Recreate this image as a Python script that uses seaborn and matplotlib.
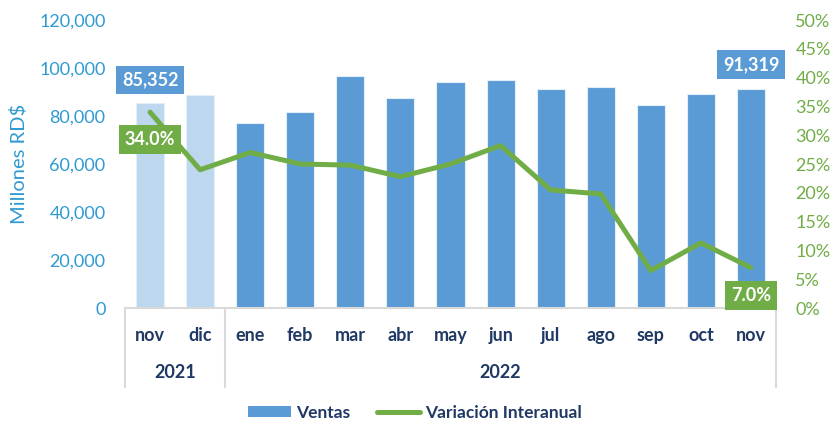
import matplotlib
matplotlib.use("Agg")
import matplotlib.pyplot as plt
import matplotlib.transforms as mtransforms
from matplotlib.patches import Patch
from matplotlib.lines import Line2D
import seaborn as sns
import pandas as pd
import numpy as np

# ---- data ----
months = ["nov", "dic", "ene", "feb", "mar", "abr", "may", "jun", "jul", "ago", "sep", "oct", "nov"]
years = ["2021", "2021", "2022", "2022", "2022", "2022", "2022", "2022", "2022", "2022", "2022", "2022", "2022"]
ventas = [85352, 88700, 77200, 81700, 96700, 87500, 94200, 95000, 91400, 91950, 84450, 89200, 91319]
variacion = [34.0, 24.0, 27.0, 25.0, 24.8, 22.8, 25.0, 28.2, 20.5, 19.8, 6.5, 11.3, 7.0]
left_ticks = [0, 20000, 40000, 60000, 80000, 100000, 120000]
right_ticks = [0, 5, 10, 15, 20, 25, 30, 35, 40, 45, 50]

sns.set_theme(style="white")
plt.rcParams["font.family"] = ["Lato", "DejaVu Sans"]

BLUE = "#5B9BD5"
LIGHT = "#BDD7EE"
GREEN = "#70AD47"
AXBLUE = "#2E9AD0"
NAVY = "#1F3864"

df = pd.DataFrame({
    "key": [f"{m} {y}" for m, y in zip(months, years)],
    "mes": months,
    "anio": years,
    "ventas": ventas,
    "var": variacion,
})
df["pos"] = np.arange(len(df))

fig = plt.figure(figsize=(8.33, 4.23), dpi=100)
ax = fig.add_axes([125 / 833, 1 - 308 / 423, 651 / 833, 288 / 423])

sns.barplot(data=df, x="key", y="ventas", hue="anio", palette={"2021": LIGHT, "2022": BLUE},
            order=list(df["key"]), dodge=False, width=0.56, ax=ax, legend=False,
            saturation=1, edgecolor="#E4EEF8", linewidth=0.8)
ax.set_xlim(-0.5, len(df) - 0.5)
ax.set_ylim(0, 120000)
ax.set_yticks(left_ticks)
ax.set_yticklabels([f"{v:,}" for v in left_ticks], color=AXBLUE, fontsize=13)
ax.tick_params(axis="y", length=0, pad=14)
ax.set_ylabel("Millones RD$", color=AXBLUE, fontsize=14.5, labelpad=8)
ax.set_xlabel("")
ax.set_xticks(df["pos"])
ax.set_xticklabels(months, fontsize=13, fontweight="bold", color=NAVY)
ax.tick_params(axis="x", length=0, pad=14)
for s in ["top", "right", "left"]:
    ax.spines[s].set_visible(False)
ax.spines["bottom"].set_color("#D9D9D9")
ax.spines["bottom"].set_linewidth(1.5)

ax2 = ax.twinx()
sns.lineplot(data=df, x="pos", y="var", color=GREEN, linewidth=3.6, ax=ax2)
ax2.set_xlim(-0.5, len(df) - 0.5)
ax2.set_ylim(0, 50)
ax2.set_yticks(right_ticks)
ax2.set_yticklabels([f"{v}%" for v in right_ticks], color=GREEN, fontsize=13)
ax2.tick_params(axis="y", length=0, pad=14)
ax2.set_ylabel("")
for s in ["top", "right", "left", "bottom"]:
    ax2.spines[s].set_visible(False)

# multi-level category separators
trans = mtransforms.blended_transform_factory(ax.transData, ax.transAxes)
for xs in [-0.5, 1.5, len(df) - 0.5]:
    ax.plot([xs, xs], [0, -0.275], transform=trans, color="#D9D9D9", lw=1.5, clip_on=False)
ax.text(0.5, -0.225, "2021", transform=trans, ha="center", va="center",
        fontsize=13, fontweight="bold", color=NAVY)
ax.text((2 + len(df) - 1) / 2, -0.225, "2022", transform=trans, ha="center", va="center",
        fontsize=13, fontweight="bold", color=NAVY)

# annotation boxes
ax.text(0, 95000, f"{ventas[0]:,}", ha="center", va="center", fontsize=13, fontweight="bold",
        color="white", bbox=dict(boxstyle="square,pad=0.33", fc=BLUE, ec="none"), zorder=5)
ax.text(len(df) - 1, 101300, f"{ventas[-1]:,}", ha="center", va="center", fontsize=13,
        fontweight="bold", color="white",
        bbox=dict(boxstyle="square,pad=0.33", fc=BLUE, ec="none"), zorder=5)
ax2.text(0, 29.3, f"{variacion[0]:.1f}%", ha="center", va="center", fontsize=13, fontweight="bold",
         color="white", bbox=dict(boxstyle="square,pad=0.33", fc=GREEN, ec="none"), zorder=5)
ax2.text(len(df) - 1, 2.1, f"{variacion[-1]:.1f}%", ha="center", va="center", fontsize=13,
         fontweight="bold", color="white",
         bbox=dict(boxstyle="square,pad=0.33", fc=GREEN, ec="none"), zorder=5)

handles = [Patch(facecolor=BLUE, edgecolor="none"), Line2D([0], [0], color=GREEN, lw=3.6)]
leg = fig.legend(handles, ["Ventas", "Variación Interanual"], loc="center", ncol=2,
                 bbox_to_anchor=(0.498, 1 - 413 / 423), frameon=False, handlelength=2.5,
                 handleheight=0.6, columnspacing=1.5, handletextpad=0.3,
                 prop={"size": 12.5, "weight": "bold"})
for t in leg.get_texts():
    t.set_color(NAVY)

fig.savefig("out.png", dpi=100)
